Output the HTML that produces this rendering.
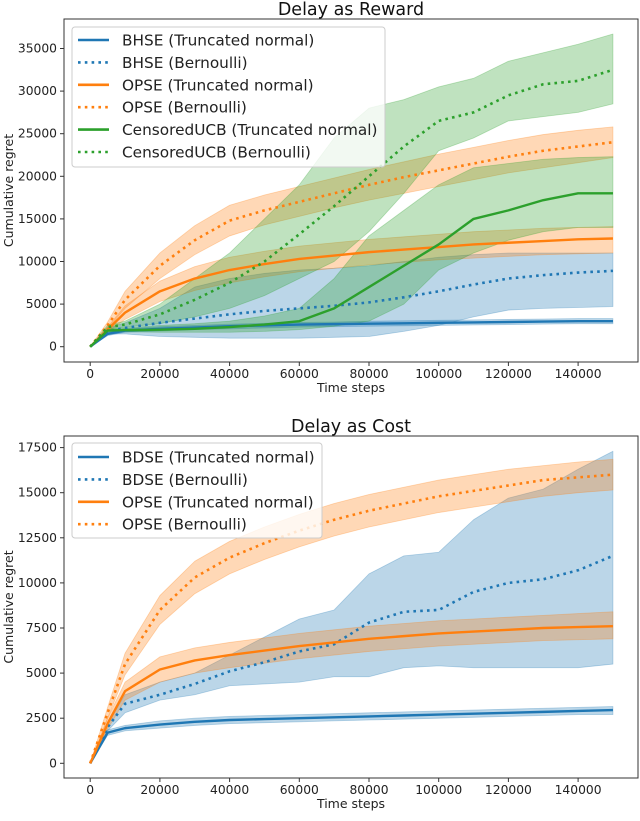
<!DOCTYPE html>
<html><head><meta charset="utf-8"><style>
body{margin:0;background:#fff;font-family:"Liberation Sans","DejaVu Sans",sans-serif}
svg text{font-family:"DejaVu Sans","Liberation Sans",sans-serif}
</style></head><body>
<svg id="s" width="640" height="816" xmlns="http://www.w3.org/2000/svg"></svg>
<script>
// ---- Top chart data (x in thousands of steps) ----
const topX = [0,5,10,20,30,40,50,60,70,80,90,100,110,120,130,140,150];
const bhseTN = [0,1500,1900,2100,2250,2400,2500,2600,2650,2700,2750,2800,2850,2900,2950,3000,3000];
const bhseTNlo = [0,1300,1700,1850,2000,2100,2200,2300,2350,2400,2450,2500,2550,2600,2650,2700,2700];
const bhseTNhi = [0,1700,2100,2350,2500,2650,2750,2850,2900,3000,3050,3100,3150,3200,3250,3300,3300];
const bhseB = [0,1800,2200,2800,3300,3800,4200,4500,4800,5200,5800,6500,7300,8000,8400,8700,8900];
const bhseBlo = [0,1500,1500,1200,1100,1000,1000,1000,1100,1200,1800,2500,3500,4300,4500,4600,4700];
const bhseBhi = [0,2200,2800,4500,7000,8000,8600,9000,9200,9500,10000,10500,10800,11000,11000,11000,11000];
const opseTN = [0,2000,4000,6500,8000,9000,9700,10300,10700,11100,11400,11700,12000,12200,12400,12600,12700];
const opseTNlo = [0,1700,3200,5300,6600,7500,8200,8800,9200,9600,9900,10200,10400,10600,10800,10900,11000];
const opseTNhi = [0,2300,4800,7700,9400,10500,11200,11800,12200,12600,12900,13200,13500,13700,13900,14000,14100];
const opseB = [0,2500,5500,9500,12500,14800,16000,17000,18000,19000,19900,20700,21500,22300,23000,23500,24000];
const opseBlo = [0,2100,4500,8000,10800,13000,14300,15300,16300,17200,18000,18800,19600,20400,21000,21600,22200];
const opseBhi = [0,2900,6500,11000,14200,16600,17800,18800,19800,20800,21700,22600,23400,24200,24900,25400,25800];
const cucbTN = [0,1900,1950,2000,2100,2300,2600,3000,4500,7000,9500,12000,15000,16000,17200,18000,18000];
const cucbTNlo = [0,1700,1750,1700,1700,1700,1800,2000,2400,3000,5000,9000,11000,12500,13500,14000,14000];
const cucbTNhi = [0,2100,2200,2500,2700,3000,3600,4500,8000,13000,16000,19000,21000,21500,22000,22200,22300];
const cucbB = [0,2300,2600,3800,5500,7500,10000,13200,16500,20000,23500,26500,27500,29500,30800,31200,32500];
const cucbBlo = [0,2100,2300,2700,3500,4500,6000,8000,10000,13500,18000,23000,24500,26500,27000,27500,28500];
const cucbBhi = [0,2500,3000,5000,8000,11000,15000,19000,24500,28000,29000,30500,31500,33500,34500,35500,36700];
// ---- Bottom chart data ----
const botX = [0,5,10,20,30,40,50,60,70,80,90,100,110,120,130,140,150];
const bdseTN = [0,1700,1950,2150,2300,2400,2450,2500,2550,2600,2650,2700,2750,2800,2850,2900,2950];
const bdseTNlo = [0,1550,1800,1950,2100,2200,2250,2300,2350,2400,2450,2500,2550,2600,2650,2700,2700];
const bdseTNhi = [0,1850,2100,2350,2500,2600,2650,2700,2750,2800,2850,2900,2950,3000,3050,3100,3150];
const bdseB = [0,2000,3300,3800,4400,5100,5600,6200,6600,7800,8400,8500,9500,10000,10200,10700,11500];
const bdseBlo = [0,1800,2800,3500,3800,4300,4400,4500,4800,4800,5300,5400,5300,5300,5300,5300,5500];
const bdseBhi = [0,2200,3800,4500,5000,6000,7000,8000,8500,10500,11500,11700,13500,14700,15200,16300,17300];
const opse2TN = [0,2200,4000,5200,5700,6000,6250,6500,6700,6900,7050,7200,7300,7400,7500,7550,7600];
const opse2TNlo = [0,1900,3500,4500,5000,5300,5550,5800,6000,6200,6350,6500,6600,6700,6800,6850,6900];
const opse2TNhi = [0,2500,4500,5900,6400,6700,6950,7200,7400,7600,7750,7900,8000,8100,8200,8300,8400];
const opse2B = [0,2800,5500,8500,10300,11400,12200,12900,13500,14000,14400,14800,15100,15400,15700,15850,16000];
const opse2Blo = [0,2500,4900,7700,9400,10500,11300,12000,12600,13100,13500,13900,14200,14500,14800,15000,15150];
const opse2Bhi = [0,3100,6100,9300,11200,12300,13100,13800,14400,14900,15300,15700,16000,16300,16500,16700,16850];
const topXTicks = [0,20000,40000,60000,80000,100000,120000,140000];
const topYTicks = [0,5000,10000,15000,20000,25000,30000,35000];
const botYTicks = [0,2500,5000,7500,10000,12500,15000,17500];

const NS='http://www.w3.org/2000/svg', S=document.getElementById('s');
function mk(t,a,p){const e=document.createElementNS(NS,t);for(const k in a)e.setAttribute(k,a[k]);(p||S).appendChild(e);return e;}
const C={b:'#1f77b4',o:'#ff7f0e',g:'#2ca02c'};

function chart(cfg){
  const g=mk('g',{});
  
  
  const xs=v=>90.2+v*(69.7/20000);
  const ys=v=>cfg.y0-v*cfg.k;
  const xd=cfg.xd;
  cfg.series.forEach(s=>{
    let pts=xd.map((x,i)=>xs(x*1000)+','+ys(s.hi[i]));
    pts=pts.concat(xd.slice().reverse().map((x,j)=>xs(x*1000)+','+ys(s.lo[xd.length-1-j])));
    const p=mk('polygon',{points:pts.join(' '),fill:s.c,'fill-opacity':0.3,stroke:s.c,'stroke-opacity':0.3,'stroke-width':0.8,'stroke-linejoin':'round'},g);
    
    
  });
  cfg.series.forEach(s=>{
    const a={points:xd.map((x,i)=>xs(x*1000)+','+ys(s.v[i])).join(' '),fill:'none',stroke:s.c,'stroke-width':s.d?2.6:2.4,'stroke-linejoin':'round'};
    if(s.d){a['stroke-dasharray']='2.6,4.2';}
    const p=mk('polyline',a,g);
    
    
  });
  const f=mk('rect',{x:64,y:cfg.top,width:574,height:cfg.bot-cfg.top,fill:'none',stroke:'#333','stroke-width':1},g);
  
  
  topXTicks.forEach(t=>{
    mk('line',{x1:xs(t),x2:xs(t),y1:cfg.bot,y2:cfg.bot+4,stroke:'#333'},g);
    const tx=mk('text',{x:xs(t),y:cfg.bot+16,'font-size':12.3,'text-anchor':'middle',fill:'#222'},g);
    tx.textContent=t;
    
    
  });
  cfg.yt.forEach(t=>{
    mk('line',{x1:60,x2:64,y1:ys(t),y2:ys(t),stroke:'#333'},g);
    const tx=mk('text',{x:57,y:ys(t)+4,'font-size':12.3,'text-anchor':'end',fill:'#222'},g);
    tx.textContent=t;
    
    
  });
  const xt=mk('text',{x:351,y:cfg.bot+30,'font-size':12.5,'text-anchor':'middle',fill:'#222'},g);
  xt.textContent='Time steps';
  
  
  const yc=(cfg.top+cfg.bot)/2;
  const yt=mk('text',{x:13,y:yc,'font-size':12.5,'text-anchor':'middle',fill:'#222',transform:`rotate(-90 13 ${yc})`},g);
  yt.textContent='Cumulative regret';
  
  
  const ti=mk('text',{x:351,y:cfg.top-4,'font-size':17.5,'text-anchor':'middle',fill:'#111'},g);
  ti.textContent=cfg.title;
  
  
  const L=cfg.leg;
  const lg=mk('g',{},g);
  
  
  mk('rect',{x:72,y:L.y,width:L.w,height:L.h,rx:3,fill:'#fff','fill-opacity':0.8,stroke:'#ccc'},lg);
  cfg.series.forEach((s,i)=>{
    const yy=L.y0+i*22.4;
    const a={x1:78,x2:109,y1:yy,y2:yy,stroke:s.c,'stroke-width':2.6};
    if(s.d)a['stroke-dasharray']='2.6,4.2';
    mk('line',a,lg);
    const t=mk('text',{x:122,y:yy+5.5,'font-size':15.3,fill:'#222'},lg);
    t.textContent=s.label;
    
    
  });
}
chart({name:'delay-as-reward-chart',title:'Delay as Reward',top:19,bot:362,y0:346.7,k:42.6/5000,xd:topX,yt:topYTicks,
  leg:{y:27,w:313,h:140,y0:40},
  series:[
   {id:'bhse-tn',label:'BHSE (Truncated normal)',c:C.b,v:bhseTN,lo:bhseTNlo,hi:bhseTNhi},
   {id:'bhse-b',label:'BHSE (Bernoulli)',c:C.b,d:1,v:bhseB,lo:bhseBlo,hi:bhseBhi},
   {id:'opse-tn',label:'OPSE (Truncated normal)',c:C.o,v:opseTN,lo:opseTNlo,hi:opseTNhi},
   {id:'opse-b',label:'OPSE (Bernoulli)',c:C.o,d:1,v:opseB,lo:opseBlo,hi:opseBhi},
   {id:'cucb-tn',label:'CensoredUCB (Truncated normal)',c:C.g,v:cucbTN,lo:cucbTNlo,hi:cucbTNhi},
   {id:'cucb-b',label:'CensoredUCB (Bernoulli)',c:C.g,d:1,v:cucbB,lo:cucbBlo,hi:cucbBhi}]});
chart({name:'delay-as-cost-chart',title:'Delay as Cost',top:436,bot:778,y0:763.3,k:45.1/2500,xd:botX,yt:botYTicks,
  leg:{y:443,w:250,h:95,y0:457},
  series:[
   {id:'bdse-tn',label:'BDSE (Truncated normal)',c:C.b,v:bdseTN,lo:bdseTNlo,hi:bdseTNhi},
   {id:'bdse-b',label:'BDSE (Bernoulli)',c:C.b,d:1,v:bdseB,lo:bdseBlo,hi:bdseBhi},
   {id:'opse-tn',label:'OPSE (Truncated normal)',c:C.o,v:opse2TN,lo:opse2TNlo,hi:opse2TNhi},
   {id:'opse-b',label:'OPSE (Bernoulli)',c:C.o,d:1,v:opse2B,lo:opse2Blo,hi:opse2Bhi}]});
</script>
</body></html>
